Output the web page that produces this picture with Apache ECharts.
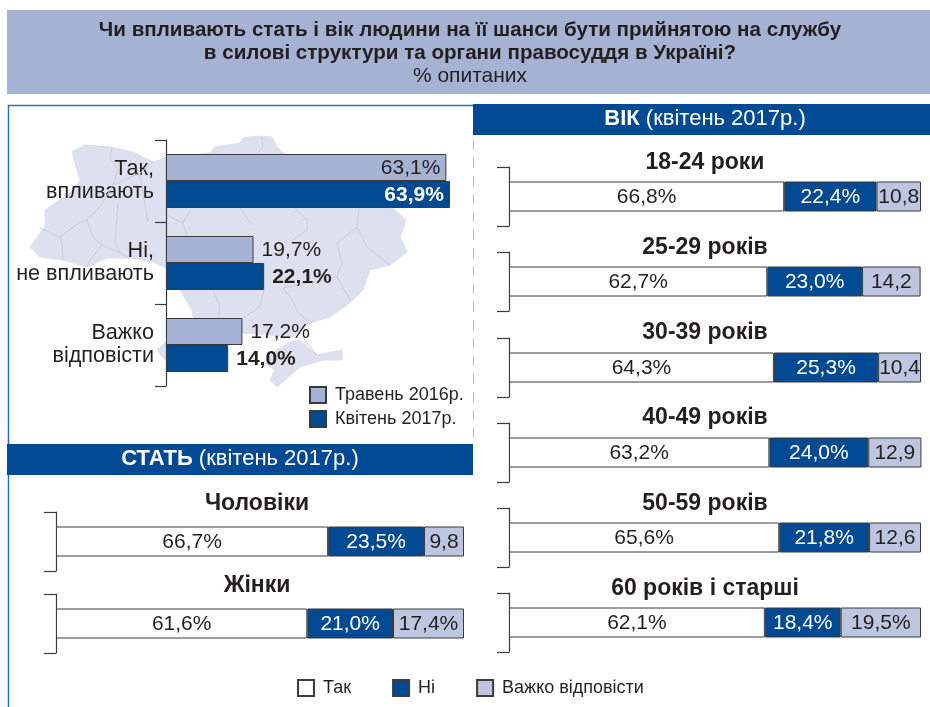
<!DOCTYPE html>
<html><head><meta charset="utf-8">
<style>html,body{margin:0;padding:0;background:#fff}#c{width:930px;height:707px}</style>
<script src="https://cdn.jsdelivr.net/npm/echarts@6/dist/echarts.min.js"></script></head>
<body><div id="c"></div>
<script>
// ---- data ----
const titleLines = ['Чи впливають стать і вік людини на її шанси бути прийнятою на службу','в силові структури та органи правосуддя в Україні?'];
const titleUnit = '% опитаних';
const answerGroups = ['Так,\nвпливають','Ні,\nне впливають','Важко\nвідповісти'];
const may2016 = [63.1,19.7,17.2];
const apr2017 = [63.9,22.1,14.0];
const periodNames = ['Травень 2016р.','Квітень 2017р.'];
const genderGroups = ['Чоловіки','Жінки'];
const genderYes = [66.7,61.6];
const genderNo = [23.5,21.0];
const genderHard = [9.8,17.4];
const ageGroups = ['18-24 роки','25-29 років','30-39 років','40-49 років','50-59 років','60 років і старші'];
const ageYes = [66.8,62.7,64.3,63.2,65.6,62.1];
const ageNo = [22.4,23.0,25.3,24.0,21.8,18.4];
const ageHard = [10.8,14.2,10.4,12.9,12.6,19.5];
const answerNames = ['Так','Ні','Важко відповісти'];

// ---- style ----
const FONT='"Liberation Sans",Arial,sans-serif';
const INK='#231f20', DARK='#004a93', LIGHT='#a5b2d3', PALE='#bec5e0', MAP='#dde1ef', MAPLINE='#c9cdd9', EDGE='#3a3a3a';
const comma=v=>v.toFixed(1).replace('.',',');

const mapOutline=[[72,152],[85,145],[110,147],[133,152],[153,162],[166,158],[210,153],[215,147],[240,143],[243,138],[257,136],[272,137],[277,147],[283,153],[360,200],[393,208],[406,220],[400,237],[407,252],[390,265],[370,270],[363,290],[350,303],[330,317],[310,323],[300,332],[293,337],[243,333],[193,317],[192,310],[180,290],[172,278],[166,268],[153,262],[130,258],[107,258],[87,267],[63,260],[40,257],[30,247],[45,227],[45,210],[70,193],[80,180],[75,163]];
const mapSouthWest=[[193,318],[166,342],[157,350],[165,360],[185,360],[200,330]];
const mapCrimea=[[300,340],[317,355],[342,350],[342,360],[323,360],[300,367],[277,387],[270,380],[275,370],[263,362],[277,350],[290,342]];
const mapBorders=[
 [[112,148],[110,158],[118,170],[113,185],[100,207],[87,220],[93,237],[102,245],[120,253],[130,258]],
 [[118,203],[115,243],[120,253]],[[140,173],[145,205],[148,222]],[[80,222],[87,220]],[[80,222],[60,237],[40,228]],[[60,237],[62,243],[63,260]],
 [[87,267],[90,260],[102,245]],[[113,185],[140,173],[153,162]],
 [[167,215],[183,223],[190,210]],[[183,223],[187,236]],[[240,208],[252,225]],[[295,208],[307,220],[307,230],[293,240]],
 [[360,200],[357,227],[337,243],[342,263],[337,277],[283,288],[292,300],[298,313],[310,322]],
 [[357,227],[367,247],[390,265]],[[337,277],[350,300]],[[264,290],[260,307],[243,318]],[[213,290],[220,307],[218,318]],
 [[262,137],[263,147],[257,153]],[[303,338],[317,355]]
];

const graphic=[];
[mapOutline,mapSouthWest,mapCrimea].forEach(p=>graphic.push({type:'polygon',z:0,shape:{points:p},style:{fill:MAP,stroke:MAP,lineWidth:1},silent:true}));
mapBorders.forEach(p=>graphic.push({type:'polyline',z:1,shape:{points:p},style:{fill:null,stroke:MAPLINE,lineWidth:1},silent:true}));
graphic.push({type:'rect',z:0,shape:{x:7,y:10,width:923,height:84},style:{fill:LIGHT}});
graphic.push({type:'polyline',z:1,shape:{points:[[8.5,707],[8.5,105.5],[473,105.5]]},style:{fill:null,stroke:'#2f6fb3',lineWidth:1.5}});
graphic.push({type:'line',z:1,shape:{x1:473.5,y1:140,x2:473.5,y2:443},style:{stroke:'#b9b9b9',lineWidth:1,lineDash:[10,8]}});
graphic.push({type:'rect',z:1,shape:{x:473,y:104,width:457,height:31},style:{fill:DARK}});
graphic.push({type:'rect',z:1,shape:{x:7,y:444,width:466,height:31},style:{fill:DARK}});
const txt=(text,x,y,font,fill)=>graphic.push({type:'text',z:20,x,y,style:{text,font,fill:fill||INK,align:'center',verticalAlign:'middle'}});
txt(titleLines[0],470,30,'bold 20.6px '+FONT);
txt(titleLines[1],470,53,'bold 20.6px '+FONT);
txt(titleUnit,470,76,'21px '+FONT);
const band=(bold,rest,x,y)=>graphic.push({type:'text',z:20,x,y,style:{text:'{b|'+bold+'}{r| '+rest+'}',align:'center',verticalAlign:'middle',fill:'#fff',
  rich:{b:{font:'bold 22px '+FONT,fill:'#fff'},r:{font:'22px '+FONT,fill:'#fff'}}}});
band('ВІК','(квітень 2017р.)',705,119);
band('СТАТЬ','(квітень 2017р.)',240,459);

const grid=[],xAxis=[],yAxis=[],series=[];
function addGrid(g,cats,labelOpt,tick,xMax){
  const i=grid.length;
  grid.push(Object.assign({containLabel:false},g));
  xAxis.push({gridIndex:i,type:'value',min:0,max:xMax,show:false});
  yAxis.push({gridIndex:i,type:'category',inverse:true,data:cats,
    axisLine:{show:true,onZero:false,lineStyle:{color:EDGE,width:1.2}},
    axisTick:{show:true,length:tick,lineStyle:{color:EDGE,width:1.2}},
    axisLabel:labelOpt||{show:false}});
  return i;
}
const g0=addGrid({left:166,top:140,width:311,height:246},answerGroups,
  {show:true,color:INK,fontFamily:FONT,fontSize:21.6,lineHeight:23,margin:12,align:'right',padding:[3,0,0,0]},11,70);
function periodSeries(name,vals,fill,bold){
  series.push({type:'bar',name,xAxisIndex:g0,yAxisIndex:g0,barWidth:27,barGap:'0%',z:3,
    itemStyle:{color:fill,borderColor:EDGE,borderWidth:1},
    data:vals.map(v=>{
      const inside=v>50;
      return {value:v,label:{show:true,position:inside?'insideRight':'right',distance:inside?6:8,offset:[0,1],
        formatter:comma(v)+'%',fontFamily:FONT,fontSize:21,fontWeight:bold?'bold':'normal',
        color:inside&&bold?'#fff':INK}};
    })});
}
periodSeries(periodNames[0],may2016,LIGHT,false);
periodSeries(periodNames[1],apr2017,DARK,true);

function stacked(cat,yes,no,hard,left,width,top){
  const i=addGrid({left,top,width,height:59},[cat],null,12,100);
  const lab=(color)=>({show:true,position:'inside',offset:[0,1],fontFamily:FONT,fontSize:21,color,
    formatter:p=>comma(p.value)+(p.value>=15?'%':'')});
  [[answerNames[0],yes,'#ffffff',INK],[answerNames[1],no,DARK,'#fff'],[answerNames[2],hard,PALE,INK]].forEach(([name,v,fill,c])=>{
    series.push({type:'bar',name,stack:'s'+i,xAxisIndex:i,yAxisIndex:i,barWidth:30,z:3,
      itemStyle:{color:fill,borderColor:EDGE,borderWidth:1},label:lab(c),data:[v]});
  });
}
const genderTops=[512,594], ageTops=[167,252,338,423,508,593];
const genderHead=[504,586], ageHead=[163,248,333,418,504,589];
genderGroups.forEach((c,k)=>{stacked(c,genderYes[k],genderNo[k],genderHard[k],56,408,genderTops[k]);txt(c,257,genderHead[k],'bold 23px '+FONT);});
ageGroups.forEach((c,k)=>{stacked(c,ageYes[k],ageNo[k],ageHard[k],509,412,ageTops[k]);txt(c,705,ageHead[k],'bold 23px '+FONT);});

const legendText={fontFamily:FONT,fontSize:18,color:INK,padding:[0,0,0,4]};
const option={animation:false,backgroundColor:'#fff',grid,xAxis,yAxis,series,graphic,tooltip:{show:false},
  legend:[
    {data:periodNames,orient:'vertical',left:304,top:381,itemWidth:16,itemHeight:16,itemGap:6,icon:'rect',selectedMode:false,textStyle:legendText},
    {data:answerNames,orient:'horizontal',left:292,top:674,itemWidth:16,itemHeight:16,itemGap:41,icon:'rect',selectedMode:false,textStyle:legendText}
  ]};
echarts.init(document.getElementById('c'),null,{renderer:'canvas'}).setOption(option);
</script></body></html>
